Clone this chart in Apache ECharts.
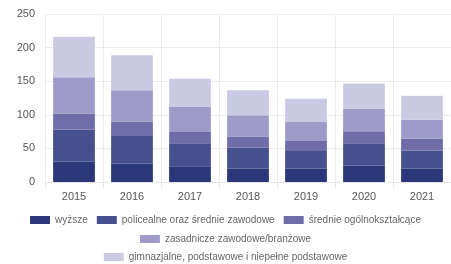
<!DOCTYPE html>
<html><head><meta charset="utf-8">
<script src="https://cdn.jsdelivr.net/npm/echarts@6/dist/echarts.min.js"></script>
<style>html,body{margin:0;padding:0;background:#fff}#c{width:451px;height:264px}</style>
</head><body><div id="c"></div>
<script>
const categories = ['2015','2016','2017','2018','2019','2020','2021'];
const seriesNames = ['wyższe','policealne oraz średnie zawodowe','średnie ogólnokształcące','zasadnicze zawodowe/branżowe','gimnazjalne, podstawowe i niepełne podstawowe'];
const wyzsze = [30, 27.5, 23.5, 20, 20, 24.5, 20];
const policealne = [48, 41, 34, 31, 26, 33, 27];
const srednie = [24, 21, 17, 16.5, 15, 18, 17.5];
const zasadnicze = [54, 47, 37, 32, 29, 33, 28];
const gimnazjalne = [60, 52, 42, 37, 34, 38, 36];
const yTicks = [0, 50, 100, 150, 200, 250];
const colors = ['#2a3779','#46508f','#6f6ca7','#9e9bc8','#cbcae4'];
const values = [wyzsze, policealne, srednie, zasadnicze, gimnazjalne];

const legendBase = {
  left: 'center', itemWidth: 20, itemHeight: 8, itemGap: 9, icon: 'rect',
  textStyle: {color: '#666', fontSize: 10, fontFamily: 'Liberation Sans, Arial'}
};
const chart = echarts.init(document.getElementById('c'));
chart.setOption({
  animation: false,
  grid: {left: 45, top: 14, width: 414, height: 168},
  legend: [
    Object.assign({}, legendBase, {data: seriesNames.slice(0, 3), top: 210}),
    Object.assign({}, legendBase, {data: seriesNames.slice(3, 4), top: 229}),
    Object.assign({}, legendBase, {data: seriesNames.slice(4, 5), top: 247})
  ],
  xAxis: {
    type: 'category', data: categories,
    axisLine: {lineStyle: {color: '#e6e6e6'}},
    axisTick: {show: true, length: 6, lineStyle: {color: '#e6e6e6'}},
    splitLine: {show: true, lineStyle: {color: '#ececec'}},
    axisLabel: {color: '#555', fontSize: 11, margin: 9, fontFamily: 'Liberation Sans, Arial'}
  },
  yAxis: {
    type: 'value', min: yTicks[0], max: yTicks[yTicks.length-1], interval: 50,
    axisLine: {show: false}, axisTick: {show: false},
    splitLine: {lineStyle: {color: '#ececec'}},
    axisLabel: {color: '#555', fontSize: 11, margin: 10, fontFamily: 'Liberation Sans, Arial'}
  },
  series: seriesNames.map((n, i) => ({
    name: n, type: 'bar', stack: 'a', data: values[i],
    barCategoryGap: '28%',
    itemStyle: {color: colors[i]}
  }))
});
</script></body></html>
